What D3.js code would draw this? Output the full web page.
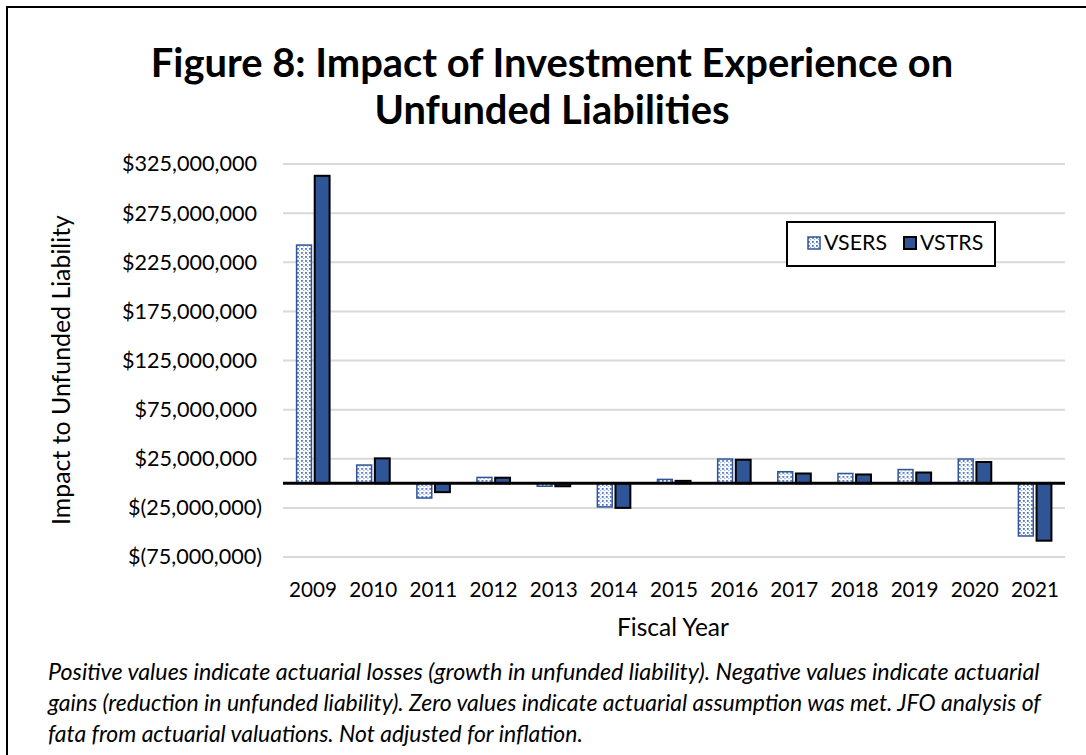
<!DOCTYPE html>
<html>
<head>
<meta charset="utf-8">
<script src="https://cdn.jsdelivr.net/npm/d3@7"></script>
<style>
  body { margin: 0; background: #fff; }
  svg { display: block; }
  text { font-family: Lato, "Open Sans", sans-serif; fill: #000; }
</style>
</head>
<body>
<svg width="1086" height="755"></svg>
<script>
// chart values (dollars)
var years = ["2009","2010","2011","2012","2013","2014","2015","2016","2017","2018","2019","2020","2021"];
var vsers = [242.5e6, 18.6e6, -15e6, 6e6, -3e6, -24e6, 4e6, 24.7e6, 11.8e6, 10e6, 14e6, 24.7e6, -53.6e6];
var vstrs = [313e6, 25.4e6, -9e6, 5.7e6, -3e6, -25e6, 2.5e6, 24e6, 10e6, 9e6, 11e6, 21.7e6, -58.4e6];
var seriesNames = ["VSERS", "VSTRS"];
var yTicks = [325e6, 275e6, 225e6, 175e6, 125e6, 75e6, 25e6, -25e6, -75e6];

var titleLines = ["Figure 8: Impact of Investment Experience on", "Unfunded Liabilities"];
var noteLines = [
  "Positive values indicate actuarial losses (growth in unfunded liability). Negative values indicate actuarial",
  "gains (reduction in unfunded liability). Zero values indicate actuarial assumption was met. JFO analysis of",
  "fata from actuarial valuations. Not adjusted for inflation."
];

var svg = d3.select("svg");
var blue = "#2F5597";

// scale a text's font size so it takes the width seen in the picture
function fitSize(node, width) {
  var cur = parseFloat(getComputedStyle(node).fontSize);
  return cur * width / node.getComputedTextLength();
}

// outer frame (only top and left visible in the crop)
svg.append("rect").attr("x", 7).attr("y", 7).attr("width", 1200).attr("height", 900)
  .attr("fill", "none").attr("stroke", "#000").attr("stroke-width", 2);

// pattern for VSERS
var defs = svg.append("defs");
var pat = defs.append("pattern").attr("id", "dots").attr("patternUnits", "userSpaceOnUse")
  .attr("width", 4).attr("height", 4);
pat.append("rect").attr("width", 4).attr("height", 4).attr("fill", "#fff");
pat.append("rect").attr("x", 0).attr("y", 0).attr("width", 1.8).attr("height", 1.8).attr("fill", "#4A72C0");
pat.append("rect").attr("x", 2).attr("y", 2).attr("width", 1.2).attr("height", 1.2).attr("fill", "#8FA9DC");

// title
var title = svg.selectAll(".title").data(titleLines).enter().append("text")
  .attr("class", "title")
  .attr("x", 552).attr("y", function(d, i) { return 77 + i * 47; })
  .attr("text-anchor", "middle")
  .style("font-size", "34px").style("font-weight", "bold")
  .text(function(d) { return d; });
var tSize = fitSize(title.node(), 803);
title.style("font-size", tSize + "px");

var margin = {left: 283, right: 1065, top: 164, bottom: 557};

var x = d3.scaleBand().domain(years).range([margin.left, margin.right]);
var y = d3.scaleLinear().domain([-75e6, 325e6]).range([margin.bottom, margin.top]);
var x1 = d3.scaleBand().domain(seriesNames).range([-16.5, 16.5]).paddingInner(0.18);

// gridlines
svg.append("g").selectAll("line").data(yTicks).enter().append("line")
  .attr("x1", margin.left).attr("x2", margin.right)
  .attr("y1", function(d) { return y(d); }).attr("y2", function(d) { return y(d); })
  .attr("stroke", "#D9D9D9").attr("stroke-width", 2);

// y axis labels (accounting style: negatives hang past the digits)
function money(v) {
  var s = d3.format(",")(Math.abs(v));
  return v < 0 ? "$(" + s + ")" : "$" + s;
}
var yAxis = svg.append("g").attr("transform", "translate(" + margin.left + ",0)")
  .call(d3.axisLeft(y).tickValues(yTicks).tickFormat(money).tickSize(0).tickPadding(26));
yAxis.select(".domain").remove();
var yText = yAxis.selectAll("text").style("font-size", "19px").attr("fill", "#000").attr("font-family", null);
var ySize = fitSize(yText.node(), 135);
yText.style("font-size", ySize + "px")
  .attr("dx", function(d) { return d < 0 ? 5 : 0; });

// bars
var groups = svg.append("g").selectAll("g").data(years).enter().append("g")
  .attr("transform", function(d) { return "translate(" + (x(d) + x.bandwidth() / 2) + ",0)"; });

groups.append("rect")
  .attr("x", x1("VSERS"))
  .attr("width", x1.bandwidth())
  .attr("y", function(d, i) { return y(Math.max(0, vsers[i])); })
  .attr("height", function(d, i) { return Math.abs(y(vsers[i]) - y(0)); })
  .attr("fill", "url(#dots)").attr("stroke", blue).attr("stroke-width", 1.5);

groups.append("rect")
  .attr("x", x1("VSTRS"))
  .attr("width", x1.bandwidth())
  .attr("y", function(d, i) { return y(Math.max(0, vstrs[i])); })
  .attr("height", function(d, i) { return Math.abs(y(vstrs[i]) - y(0)); })
  .attr("fill", blue).attr("stroke", "#000").attr("stroke-width", 2);

// zero line
svg.append("line").attr("x1", margin.left).attr("x2", margin.right)
  .attr("y1", y(0)).attr("y2", y(0)).attr("stroke", "#000").attr("stroke-width", 3);

// x axis labels
var xAxis = svg.append("g").attr("transform", "translate(0," + margin.bottom + ")")
  .call(d3.axisBottom(x).tickSize(0).tickPadding(25));
xAxis.select(".domain").remove();
var xText = xAxis.selectAll("text").style("font-size", "19px").attr("fill", "#000").attr("font-family", null);
var xSize = fitSize(xText.node(), 48);
xText.style("font-size", xSize + "px");

// axis titles
var xTitle = svg.append("text").attr("x", 673).attr("y", 636).attr("text-anchor", "middle")
  .style("font-size", "20px").text("Fiscal Year");
xTitle.style("font-size", fitSize(xTitle.node(), 112) + "px");
var yTitle = svg.append("text").attr("transform", "translate(70,370) rotate(-90)").attr("text-anchor", "middle")
  .style("font-size", "20px").text("Impact to Unfunded Liability");
yTitle.style("font-size", fitSize(yTitle.node(), 310) + "px");

// legend
var legend = svg.append("g").attr("transform", "translate(787,222)");
legend.append("rect").attr("width", 208).attr("height", 44)
  .attr("fill", "#fff").attr("stroke", "#000").attr("stroke-width", 2);
var items = legend.selectAll(".item").data(seriesNames).enter().append("g")
  .attr("transform", function(d, i) { return "translate(" + (21 + i * 96) + ",15)"; });
items.append("rect").attr("width", 12).attr("height", 12)
  .attr("fill", function(d) { return d == "VSERS" ? "url(#dots)" : blue; })
  .attr("stroke", function(d) { return d == "VSERS" ? blue : "#000"; })
  .attr("stroke-width", function(d) { return d == "VSERS" ? 1.5 : 2; });
var lText = items.append("text").attr("x", 16).attr("y", 13).style("font-size", "18px")
  .text(function(d) { return d; });
var lSize = fitSize(lText.node(), 63);
lText.style("font-size", lSize + "px");

// footnote, fitted to the widths in the picture
var noteWidths = [992, 993, 535];
svg.selectAll(".note").data(noteLines).enter().append("text")
  .attr("class", "note")
  .attr("x", 48).attr("y", function(d, i) { return 680 + i * 31; })
  .style("font-size", "19px").style("font-style", "italic")
  .text(function(d) { return d; })
  .each(function(d, i) {
    d3.select(this).style("font-size", fitSize(this, noteWidths[i]) + "px");
  });
</script>
</body>
</html>
